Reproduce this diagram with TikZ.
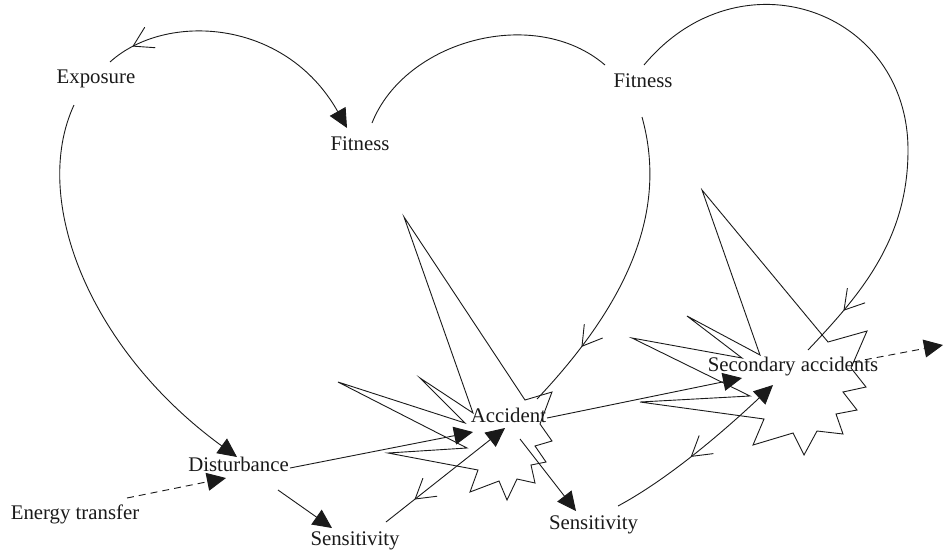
\documentclass[tikz,border=0pt]{standalone}
\usepackage{fontspec}
\setmainfont{Liberation Serif}
\usetikzlibrary{arrows.meta,decorations.markings}
\definecolor{ink}{HTML}{1A1A1A}
\begin{document}
\begin{tikzpicture}[x=1pt,y=-1pt,
  lbl/.style={anchor=base,inner sep=0pt,font=\fontsize{20.8}{25}\selectfont,text=ink},
  conn/.style={draw=ink,line width=0.9pt},
  tip/.style={-{Triangle[length=19pt,width=18pt]}},
  dsh/.style={dash pattern=on 7pt off 5pt},
  burst/.style={draw=ink,line width=0.9pt},
  chev/.style={draw=ink,line width=0.9pt,solid,arrows=-},
  midback/.style={postaction={decorate},decoration={markings,
     mark=at position #1 with {\draw[chev] (19pt,11.5pt) -- (0pt,0pt) -- (19pt,-11.5pt);}}},
  midfwd/.style={postaction={decorate},decoration={markings,
     mark=at position #1 with {\draw[chev] (-19pt,11.5pt) -- (0pt,0pt) -- (-19pt,-11.5pt);}}}
]
\useasboundingbox (0,0) rectangle (944,557);

% starbursts
\draw[burst] (404,217) -- (525,400) -- (552,392) -- (540,424) -- (552,441) -- (535,446)
  -- (546,462) -- (531,465) -- (535,483) -- (517,479) -- (507,500) -- (499,481)
  -- (470,492) -- (478,470) -- (388,453) -- (467,448) -- (338,382) -- (465,423)
  -- (420,378) -- (473,413) -- cycle;
\draw[burst] (702,190) -- (828,342) -- (867,331) -- (851,368) -- (866,387) -- (843,392)
  -- (857,410) -- (836,414) -- (843,434) -- (817,431) -- (804,455) -- (793,433)
  -- (753,445) -- (764,419) -- (640,402) -- (750,396) -- (632,338) -- (742,358)
  -- (687,316) -- (760,355) -- cycle;

% labels
\node[lbl] (expo) at (96,83) {Exposure};
\node[lbl] (fitL) at (360,150) {Fitness};
\node[lbl] (fitR) at (643,87) {Fitness};
\node[lbl] (dist) at (238.5,471) {Disturbance};
\node[lbl] (energy) at (75,519) {Energy transfer};
\node[lbl] (sensL) at (355,545.5) {Sensitivity};
\node[lbl] (acc) at (508.5,422) {Accident};
\node[lbl] (sensR) at (593.5,529) {Sensitivity};
\node[lbl] (sec) at (793,371) {Secondary accidents};
\coordinate (out) at (943,345);

% connectors
\draw[conn,tip,midback=0.1] ([shift={(14,-21)}]expo.base) .. controls (165,12) and (285,18) .. ([shift={(-13,-22)}]fitL.base);
\draw[conn,tip] ([shift={(-22,22)}]expo.base) .. controls (30,200) and (90,350) .. ([shift={(-1.5,-14)}]dist.base);
\draw[conn] ([shift={(12,-27)}]fitL.base) .. controls (405,40) and (535,5) .. ([shift={(-38,-22)}]fitR.base);
\draw[conn,midfwd=0.78] ([shift={(-1,30)}]fitR.base) .. controls (665,200) and (640,290) .. ([shift={(28.5,-23)}]acc.base);
\draw[conn,midfwd=0.91] ([shift={(1,-22)}]fitR.base) .. controls (740,-50) and (908,10) .. (908,150) .. controls (908,240) and (860,295) .. ([shift={(15,-21)}]sec.base);
\draw[conn,tip] ([shift={(51.5,-3)}]dist.base) -- ([shift={(-35.5,10)}]acc.base);
\draw[conn,tip,dsh] ([shift={(52,-21)}]energy.base) -- ([shift={(-12.5,7)}]dist.base);
\draw[conn,tip] ([shift={(39.5,19)}]dist.base) -- ([shift={(-23,-17.5)}]sensL.base);
\draw[conn,tip,midback=0.245] ([shift={(31,-23.5)}]sensL.base) -- ([shift={(-3.5,6)}]acc.base);
\draw[conn,tip] ([shift={(11.5,17)}]acc.base) -- ([shift={(-17.5,-18)}]sensR.base);
\draw[conn,tip,midback=0.45] ([shift={(24.5,-23)}]sensR.base) .. controls (670,478) and (725,430) .. ([shift={(-20,14)}]sec.base);
\draw[conn,tip] ([shift={(38.5,-4)}]acc.base) -- ([shift={(-51,7)}]sec.base);
\draw[conn,tip,dsh] ([shift={(60,-9)}]sec.base) -- (out);
\end{tikzpicture}
\end{document}
